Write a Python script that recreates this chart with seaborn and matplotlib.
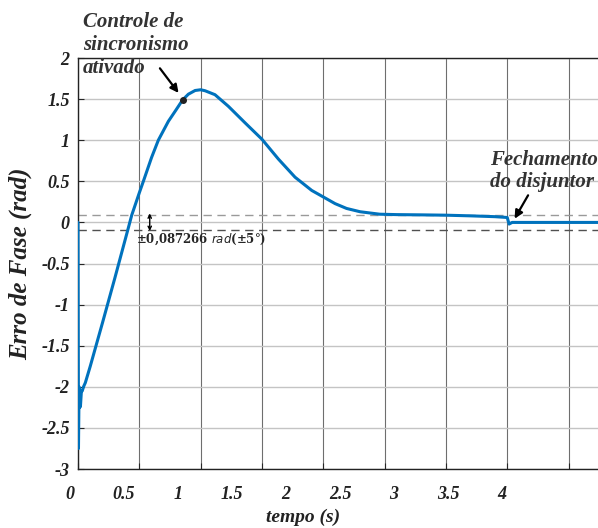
import matplotlib

matplotlib.use("Agg")
import matplotlib.pyplot as plt
import matplotlib.transforms as mtransforms
import pandas as pd
import seaborn as sns

# ============================================================
# Data
# ============================================================
tempo = [0.0, 0.004, 0.009, 0.014, 0.02, 0.028, 0.035, 0.045, 0.06, 0.1,
         0.2, 0.3, 0.41, 0.438, 0.5, 0.533, 0.6, 0.655, 0.737, 0.8,
         0.853, 0.9, 0.955, 1.0, 1.036, 1.117, 1.226, 1.362, 1.5, 1.634,
         1.77, 1.906, 2.0, 2.096, 2.19, 2.3, 2.46, 2.6, 2.8, 3.0,
         3.2, 3.4, 3.5, 3.515, 3.54, 4.24]
erro = [0.0, -2.75, -2.0, -2.25, -2.24, -2.05, -2.05, -2.0, -1.95, -1.75,
        -1.22, -0.68, -0.07, 0.087, 0.36, 0.5, 0.79, 1.0, 1.23, 1.37,
        1.49, 1.56, 1.605, 1.614, 1.602, 1.554, 1.413, 1.212, 1.012, 0.771,
        0.55, 0.389, 0.31, 0.229, 0.17, 0.13, 0.10, 0.095, 0.092, 0.088,
        0.08, 0.07, 0.06, -0.02, 0.0, 0.0]

tolerancia = 0.087266
x_ticks = [0, 0.5, 1, 1.5, 2, 2.5, 3, 3.5, 4]
y_ticks = [2, 1.5, 1, 0.5, 0, -0.5, -1, -1.5, -2, -2.5, -3]
t_sync, y_sync = 0.853, 1.49

df = pd.DataFrame({"tempo": tempo, "erro": erro})

sns.set_style("ticks")
plt.rcParams["font.family"] = ["Liberation Serif", "DejaVu Serif"]

fig = plt.figure(figsize=(5.98, 5.28), dpi=100)
ax = fig.add_axes([0.1304, 0.1117, 0.8696, 0.7784])

# grid: vertical darker, horizontal lighter
for xv in x_ticks:
    ax.axvline(xv, color="#6e6e6e", lw=0.8, zorder=0)
for yv in y_ticks:
    ax.axhline(yv, color="#c4c4c4", lw=1.0, zorder=0)

ax.axhline(tolerancia, color="#9a9a9a", lw=1.0, ls=(0, (6, 4)), zorder=1)
ax.axhline(-tolerancia, color="#505050", lw=1.0, ls=(0, (6, 4)), zorder=1)

sns.lineplot(data=df, x="tempo", y="erro", color="#0072BD", lw=2.2,
             ax=ax, zorder=3, sort=False)

ax.set_xlim(0, 4.24)
ax.set_ylim(-3, 2)
ax.set_xticks(x_ticks)
ax.set_yticks(y_ticks)
ax.set_xticklabels([f"{v:g}" for v in x_ticks])
ax.set_yticklabels([f"{v:g}" for v in y_ticks])
ax.tick_params(direction="in", length=4, width=0.8, labelsize=13)
ax.tick_params(axis="x", pad=12)
ax.tick_params(axis="y", pad=6)
for lab in ax.get_xticklabels() + ax.get_yticklabels():
    lab.set_fontweight("bold")
    lab.set_fontstyle("italic")
    lab.set_color("#222222")

# x tick labels in the reference sit on a slightly compressed scale
for v, lab in zip(x_ticks, ax.get_xticklabels()):
    dx = (-8 - 14.6 * v) / 100.0
    lab.set_transform(lab.get_transform()
                      + mtransforms.ScaledTranslation(dx, 0, fig.dpi_scale_trans))

for side in ["left", "bottom", "top"]:
    ax.spines[side].set_color("#222222")
    ax.spines[side].set_linewidth(1.0)
ax.spines["right"].set_visible(False)

ax.set_xlabel("tempo (s)", fontsize=14, fontweight="bold", fontstyle="italic",
              color="#222222")
ax.xaxis.set_label_coords(0.433, -0.097)
ax.set_ylabel("Erro de Fase (rad)", fontsize=18, fontweight="bold",
              fontstyle="italic", color="#222222")
ax.yaxis.set_label_coords(-0.088, 0.5)

# annotations
ax.plot([t_sync], [y_sync], "o", color="#222222", ms=4, zorder=4)
ax.annotate("", xy=(0.82, 1.575), xytext=(0.668, 1.875),
            arrowprops=dict(arrowstyle="-|>", color="black", lw=1.6,
                            mutation_scale=12, shrinkA=0, shrinkB=0), zorder=5)
fig.text(0.139, 0.978, "Controle de\nsincronismo\nativado", ha="left", va="top",
         fontsize=15, fontweight="bold", fontstyle="italic", color="#333333",
         linespacing=1.2)

ax.annotate("", xy=(3.56, 0.045), xytext=(3.67, 0.33),
            arrowprops=dict(arrowstyle="-|>", color="black", lw=1.6,
                            mutation_scale=12, shrinkA=0, shrinkB=0), zorder=5)
ax.text(3.36, 0.88, "Fechamento\ndo disjuntor", ha="left", va="top",
        fontsize=15, fontweight="bold", fontstyle="italic", color="#333333",
        linespacing=1.15, zorder=5)

ax.annotate("", xy=(0.585, -0.105), xytext=(0.585, 0.11),
            arrowprops=dict(arrowstyle="<->", color="black", lw=1.0,
                            mutation_scale=6, shrinkA=0, shrinkB=0), zorder=5)
ax.text(0.475, -0.2, "±0,087266 $\\mathbf{\\mathit{rad}}$(±5°)", ha="left",
        va="center", fontsize=8.5, fontweight="bold", family="DejaVu Serif",
        zorder=5)

fig.savefig("out.png", dpi=100)
plt.close(fig)
